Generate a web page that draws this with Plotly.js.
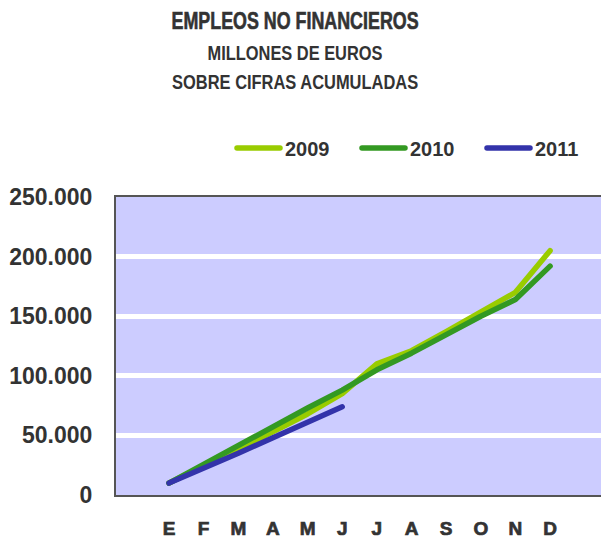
<!DOCTYPE html>
<html>
<head>
<meta charset="utf-8">
<script src="https://cdn.plot.ly/plotly-3.0.1.min.js"></script>
<style>
  html, body { margin: 0; padding: 0; background: #fff; }
  #chart { width: 601px; height: 538px; }
  .js-line { stroke-linecap: round; stroke-linejoin: round; }
  .xtick text { stroke: #333333; stroke-width: 0.7px; }
  .gtitle { stroke: #333333; stroke-width: 0.6px; }
</style>
</head>
<body>
<div id="chart"></div>
<script>
// Months (Spanish initials)
const monthLabels = ["E", "F", "M", "A", "M", "J", "J", "A", "S", "O", "N", "D"];

// Cumulative values, millions of euros
const values2009 = [10000, 24000, 39000, 53000, 68000, 85000, 110000, 121000, 137000, 153000, 170000, 205000];
const values2010 = [10000, 26000, 42000, 58000, 73000, 88000, 105000, 119000, 135000, 150000, 164000, 192000];
const values2011 = [10000, 22000, 35000, 48000, 61000, 74000];

const seriesNames = ["2009", "2010", "2011"];
const seriesColors = ["#99CC00", "#339922", "#3333AA"];

const titleLines = ["EMPLEOS NO FINANCIEROS", "MILLONES DE EUROS", "SOBRE CIFRAS ACUMULADAS"];

const idx = monthLabels.map((_, i) => i);

const traces = [values2009, values2010, values2011].map((vals, k) => ({
  type: "scatter",
  mode: "lines",
  name: seriesNames[k],
  x: idx.slice(0, vals.length),
  y: vals,
  line: { color: seriesColors[k], width: 5.5 }
}));

const sans = "'Liberation Sans', Arial, sans-serif";

const layout = {
  width: 601,
  height: 538,
  margin: { l: 116, r: 0, t: 197, b: 43, autoexpand: false },
  paper_bgcolor: "#ffffff",
  plot_bgcolor: "#CCCCFF",
  separators: ",.",
  showlegend: true,
  title: {
    text: "<b>" + titleLines[0] + "</b>",
    font: { family: sans, size: 23, color: "#333333" },
    x: 0.491, xanchor: "center",
    y: 1 - 21 / 538, yanchor: "middle", yref: "container"
  },
  annotations: [
    { text: "<b>" + titleLines[1] + "</b>", xref: "paper", yref: "paper",
      x: (295 - 116) / 485, y: (495 - 52) / 298, xanchor: "center", yanchor: "middle",
      showarrow: false, font: { family: sans, size: 21, color: "#333333" } },
    { text: "<b>" + titleLines[2] + "</b>", xref: "paper", yref: "paper",
      x: (295 - 116) / 485, y: (495 - 82) / 298, xanchor: "center", yanchor: "middle",
      showarrow: false, font: { family: sans, size: 21, color: "#333333" } }
  ],
  legend: {
    orientation: "h",
    x: (232 - 116) / 485, xanchor: "left",
    y: (495 - 148) / 298, yanchor: "middle",
    font: { family: sans, size: 20, color: "#333333", weight: "bold" },
    bgcolor: "rgba(0,0,0,0)",
    itemwidth: 43,
    entrywidth: 67,
    entrywidthmode: "pixels",
    traceorder: "normal"
  },
  xaxis: {
    type: "linear",
    range: [-1.53, 12.47],
    tickmode: "array",
    tickvals: idx,
    ticktext: monthLabels.map(m => "<b>" + m + "</b>"),
    tickfont: { family: sans, size: 19, color: "#333333" },
    ticks: "outside", ticklen: 15, tickcolor: "rgba(0,0,0,0)",
    showgrid: false, zeroline: false,
    showline: true, linecolor: "#555555", linewidth: 2, mirror: true,
    fixedrange: true
  },
  yaxis: {
    range: [0, 250000],
    tickmode: "linear", tick0: 0, dtick: 50000,
    tickformat: ",d",
    tickfont: { family: sans, size: 23, color: "#333333", weight: "bold" },
    ticks: "outside", ticklen: 17, tickcolor: "rgba(0,0,0,0)",
    showgrid: true, gridcolor: "#ffffff", gridwidth: 5,
    zeroline: false,
    showline: true, linecolor: "#555555", linewidth: 2,
    fixedrange: true
  }
};

// Target rendered widths of the condensed title lines
const titleWidths = [247, 175, 246];

Plotly.newPlot("chart", traces, layout, { staticPlot: true, displayModeBar: false }).then(gd => {
  const t = gd.querySelector(".gtitle");
  if (t) { t.setAttribute("textLength", titleWidths[0]); t.setAttribute("lengthAdjust", "spacingAndGlyphs"); }
  const anns = gd.querySelectorAll(".annotation-text");
  anns.forEach((a, i) => {
    a.setAttribute("textLength", titleWidths[i + 1]);
    a.setAttribute("lengthAdjust", "spacingAndGlyphs");
  });
});
</script>
</body>
</html>
